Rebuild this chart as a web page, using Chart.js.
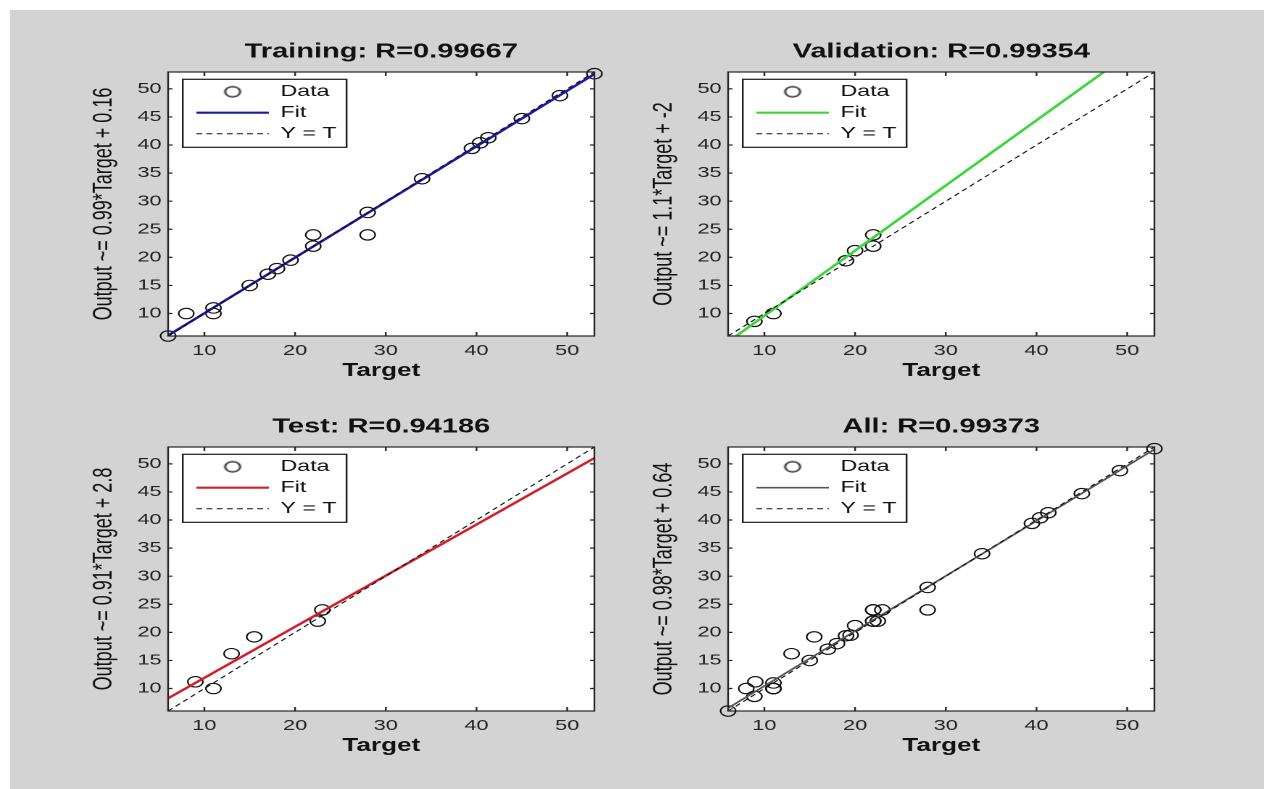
<!DOCTYPE html>
<html>
<head>
<meta charset="utf-8">
<script src="https://cdn.jsdelivr.net/npm/chart.js@4.4.0/dist/chart.umd.min.js"></script>
<style>
  html, body { margin: 0; padding: 0; background: #fff; }
  body { width: 1264px; height: 789px; position: relative; overflow: hidden; }
  #bg { position: absolute; left: 10px; top: 10px; right: 0; bottom: 0; background: #d3d3d3; }
  /* the source figure is stretched sideways, so each panel is too */
  .panel { position: absolute; width: 360px; height: 346px; transform: scaleX(1.45); transform-origin: 0 0; }
</style>
</head>
<body>
<div id="bg"></div>
<div class="panel" style="left:84px;top:40px"><canvas id="c0" width="360" height="346"></canvas></div>
<div class="panel" style="left:644px;top:40px"><canvas id="c1" width="360" height="346"></canvas></div>
<div class="panel" style="left:84px;top:415px"><canvas id="c2" width="360" height="346"></canvas></div>
<div class="panel" style="left:644px;top:415px"><canvas id="c3" width="360" height="346"></canvas></div>
<script>
const titles = ["Training: R=0.99667", "Validation: R=0.99354", "Test: R=0.94186", "All: R=0.99373"];
const yLabels = [
  "Output ~= 0.99*Target + 0.16",
  "Output ~= 1.1*Target + -2",
  "Output ~= 0.91*Target + 2.8",
  "Output ~= 0.98*Target + 0.64"
];
const fitColors = ["#1a1aa6", "#3ad63a", "#d11f2a", "#555555"];
const fitWidths = [2.2, 2.2, 2.2, 1.6];
const fitSlope = [0.99, 1.16, 0.91, 0.98];
const fitIntercept = [0.16, -2.0, 2.8, 0.64];

const trainTarget = [6, 8, 11, 11, 15, 17, 18, 19.5, 22, 22, 28, 28, 34, 39.5, 40.4, 41.3, 45, 49.2, 53];
const trainOutput = [6, 10, 11, 10, 15, 17, 18, 19.5, 24, 22, 28, 24, 34, 39.4, 40.4, 41.3, 44.7, 48.8, 52.7];
const valTarget = [8.9, 11, 19, 20, 22, 22];
const valOutput = [8.6, 10, 19.4, 21.2, 24, 22];
const testTarget = [9, 11, 13, 15.5, 22.5, 23];
const testOutput = [11.2, 10, 16.2, 19.2, 22, 24];

const axisMin = 6, axisMax = 53;
const xTicks = [10, 20, 30, 40, 50];
const yTicks = [10, 15, 20, 25, 30, 35, 40, 45, 50];

const fam = "'Liberation Sans', Arial, sans-serif";
Chart.defaults.font.family = fam;

// small circle used as the "Data" sample in the legend
const markerImg = document.createElement("canvas");
markerImg.width = 14;
markerImg.height = 14;
const mctx = markerImg.getContext("2d");
mctx.strokeStyle = "#000";
mctx.lineWidth = 1.2;
mctx.beginPath();
mctx.arc(7, 7, 5.2, 0, Math.PI * 2);
mctx.stroke();

const matlabAxes = {
  id: "matlabAxes",
  beforeDraw(chart) {
    const { ctx, chartArea: a } = chart;
    ctx.save();
    ctx.fillStyle = "#fff";
    ctx.fillRect(a.left, a.top, a.width, a.height);
    ctx.restore();
  },
  afterLayout(chart) {
    // put the legend in the upper left of the plot box
    const lg = chart.legend, a = chart.chartArea;
    lg.left = a.left + 14.5;
    lg.top = a.top + 6.7;
    lg.right = a.right;
    lg.bottom = a.bottom;
  },
  afterDraw(chart) {
    const { ctx, chartArea: a, scales } = chart;
    ctx.save();
    ctx.strokeStyle = "#262626";
    ctx.lineWidth = 1.2;
    ctx.beginPath();
    xTicks.forEach((v) => {
      const px = scales.x.getPixelForValue(v);
      ctx.moveTo(px, a.bottom); ctx.lineTo(px, a.bottom - 4);
      ctx.moveTo(px, a.top); ctx.lineTo(px, a.top + 4);
    });
    yTicks.forEach((v) => {
      const py = scales.y.getPixelForValue(v);
      ctx.moveTo(a.left, py); ctx.lineTo(a.left + 3, py);
      ctx.moveTo(a.right, py); ctx.lineTo(a.right - 3, py);
    });
    ctx.stroke();
    ctx.strokeRect(a.left, a.top, a.width, a.height);
    const lg = chart.legend;
    ctx.strokeStyle = "#1a1a1a";
    ctx.strokeRect(lg.left - 4.4, lg.top + 0.6, 113, 68);
    ctx.restore();
  }
};

function buildDatasets(i, targets, outputs) {
  const fitLine = [axisMin, axisMax].map((t) => ({ x: t, y: fitSlope[i] * t + fitIntercept[i] }));
  const identity = [axisMin, axisMax].map((t) => ({ x: t, y: t }));
  return [
    { label: "Y = T", data: identity, showLine: true, borderColor: "#111", borderWidth: 1,
      borderDash: [4, 3], pointRadius: 0, clip: 0 },
    { label: "Fit", data: fitLine, showLine: true, borderColor: fitColors[i], borderWidth: fitWidths[i],
      pointRadius: 0, clip: 0 },
    { label: "Data", data: targets.map((t, k) => ({ x: t, y: outputs[k] })), pointStyle: "circle",
      pointRadius: 5.2, borderColor: "#111", borderWidth: 1.1, backgroundColor: "rgba(0,0,0,0)", clip: false }
  ];
}

function makeChart(i, targets, outputs) {
  new Chart(document.getElementById("c" + i), {
    type: "scatter",
    data: { datasets: buildDatasets(i, targets, outputs) },
    plugins: [matlabAxes],
    options: {
      responsive: false,
      devicePixelRatio: 2,
      animation: false,
      layout: { padding: { left: 0, top: 0, right: 8, bottom: 0 } },
      plugins: {
        tooltip: { enabled: false },
        title: {
          display: true, text: titles[i], fullSize: false, color: "#111",
          padding: { top: 0, bottom: 8 },
          font: { size: 20, weight: "bold" }
        },
        legend: {
          position: "chartArea",
          align: "start",
          labels: {
            usePointStyle: true,
            pointStyleWidth: 50,
            padding: 5,
            color: "#111",
            font: { size: 16 },
            generateLabels: (chart) => chart.data.datasets.slice().reverse().map((ds) => ({
              text: ds.label,
              pointStyle: ds.label === "Data" ? markerImg : "line",
              strokeStyle: ds.borderColor,
              fillStyle: "rgba(0,0,0,0)",
              lineWidth: ds.label === "Data" ? 1 : ds.borderWidth,
              lineDash: ds.borderDash || [],
              fontColor: "#111",
              hidden: false
            }))
          }
        }
      },
      scales: {
        x: {
          type: "linear", min: axisMin, max: axisMax,
          afterBuildTicks: (s) => { s.ticks = xTicks.map((v) => ({ value: v })); },
          afterFit: (s) => { s.height = 50; },
          grid: { display: false, drawTicks: false },
          border: { display: false },
          ticks: { color: "#222", padding: 6, font: { size: 15 } },
          title: { display: true, text: "Target", color: "#111",
            font: { size: 18, weight: "bold" }, padding: { top: 0, bottom: 4 } }
        },
        y: {
          type: "linear", min: axisMin, max: axisMax,
          afterBuildTicks: (s) => { s.ticks = yTicks.map((v) => ({ value: v })); },
          afterFit: (s) => { s.width = 58; },
          grid: { display: false, drawTicks: false },
          border: { display: false },
          ticks: { color: "#222", padding: 4.5, font: { size: 15 } },
          title: { display: true, text: yLabels[i], color: "#111",
            font: { size: 18 }, padding: { top: 3.3, bottom: 0 } }
        }
      }
    }
  });
}

makeChart(0, trainTarget, trainOutput);
makeChart(1, valTarget, valOutput);
makeChart(2, testTarget, testOutput);
makeChart(3, trainTarget.concat(valTarget, testTarget), trainOutput.concat(valOutput, testOutput));
</script>
</body>
</html>
